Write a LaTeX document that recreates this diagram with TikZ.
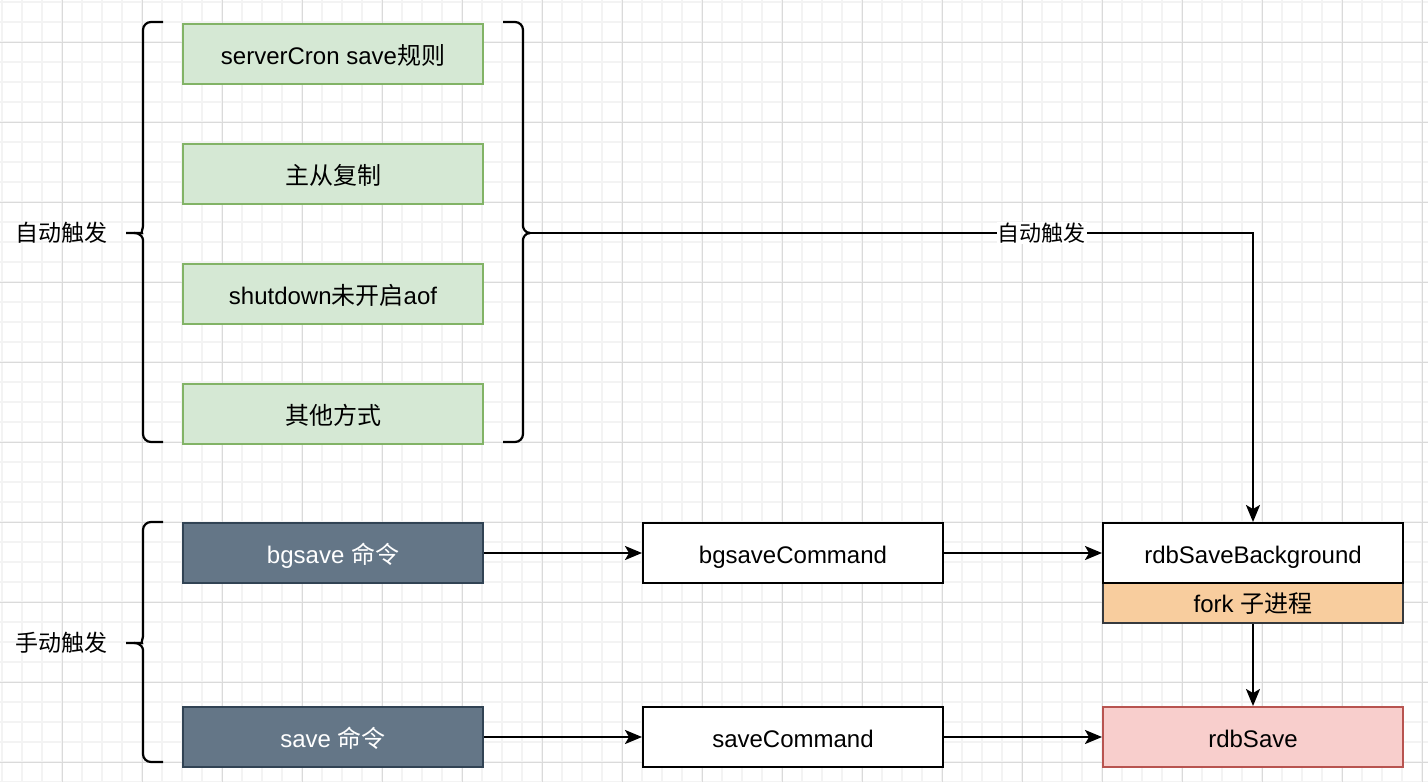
\documentclass[tikz,border=0pt]{standalone}
\usepackage{fontspec}
\setmainfont{Liberation Sans}
\newfontfamily\cjk{Noto Sans CJK SC}
\usetikzlibrary{arrows.meta}
\definecolor{gminor}{HTML}{F3F3F3}
\definecolor{gmajor}{HTML}{DADADA}
\definecolor{greenfill}{HTML}{D5E8D4}
\definecolor{greenline}{HTML}{82B366}
\definecolor{darkfill}{HTML}{647687}
\definecolor{darkline}{HTML}{314354}
\definecolor{orangefill}{HTML}{F8CD9E}
\definecolor{orangeline}{HTML}{36393D}
\definecolor{redfill}{HTML}{F8CECC}
\definecolor{redline}{HTML}{B85450}
\tikzset{
  box/.style={draw, line width=2pt, minimum width=300pt, minimum height=60pt, inner sep=0pt, anchor=north west, text height=20pt, text depth=0pt, font=\fontsize{24}{28}\selectfont},
  greenbox/.style={box, fill=greenfill, draw=greenline},
  darkbox/.style={box, fill=darkfill, draw=darkline, text=white},
  plainbox/.style={box, fill=white, draw=black},
  conn/.style={draw=black, line width=2.2pt, -{Stealth[length=17pt,width=14pt,inset=4pt]}},
  bracepath/.style={draw=black, line width=2.2pt, rounded corners=8pt},
  sidelabel/.style={font=\fontsize{23}{27}\selectfont\cjk, inner sep=0pt},
}
\begin{document}
\begin{tikzpicture}[x=1pt,y=-1pt]
\useasboundingbox (0,0) rectangle (1428,782);
\fill[white] (0,0) rectangle (1428,782);
% grid
\foreach \i in {2,22,...,1422} \draw[gminor, line width=1.3pt] (\i,0) -- (\i,782);
\foreach \j in {2,22,...,782} \draw[gminor, line width=1.3pt] (0,\j) -- (1428,\j);
\foreach \i in {62,142,...,1422} \draw[gmajor, line width=0.9pt] (\i,0) -- (\i,782);
\foreach \j in {42,122,...,782} \draw[gmajor, line width=0.9pt] (0,\j) -- (1428,\j);

% green boxes
\node[greenbox] (cron) at (182,23) {serverCron save{\cjk 规则}};
\node[greenbox] (repl) at (182,143) {\cjk 主从复制};
\node[greenbox] (shut) at (182,263) {shutdown{\cjk 未开启}aof};
\node[greenbox] (other) at (182,383) {\cjk 其他方式};

% manual boxes
\node[darkbox] (bgsave) at (182,522) {bgsave {\cjk 命令}};
\node[darkbox] (save) at (182,706) {save {\cjk 命令}};
\node[plainbox] (bgcmd) at (642,522) {bgsaveCommand};
\node[plainbox] (savecmd) at (642,706) {saveCommand};
\node[box, minimum height=40pt, text height=19pt, fill=orangefill, draw=orangeline] (fork) at (1102,582) {fork {\cjk 子进程}};
\node[plainbox] (rdbbg) at (1102,522) {rdbSaveBackground};
\node[box, fill=redfill, draw=redline] (rdb) at (1102,706) {rdbSave};

% side labels
\node[sidelabel] (autolbl) at (62,233) {自动触发};
\node[sidelabel] (manlbl) at (62,643) {手动触发};

% left brace (auto)
\draw[bracepath] (163,22) -- (143,22) -- (143,218)
  .. controls (143,228) and (141,233) .. (134,233) -- (127,233);
\draw[bracepath] (134,233) .. controls (141,233) and (143,238) .. (143,248)
  -- (143,442) -- (163,442);
% right brace
\draw[bracepath] (503,22) -- (523,22) -- (523,218)
  .. controls (523,228) and (525,233) .. (530,233);
\draw[bracepath] (530,233) .. controls (525,233) and (523,238) .. (523,248)
  -- (523,442) -- (503,442);
\coordinate (autotip) at (530,233);
% lower brace (manual)
\draw[bracepath] (163,522) -- (143,522) -- (143,628)
  .. controls (143,638) and (141,643) .. (134,643) -- (127,643);
\draw[bracepath] (134,643) .. controls (141,643) and (143,648) .. (143,658)
  -- (143,762) -- (163,762);

% connectors
\draw[conn] (autotip) -| node[pos=0.354, fill=white, inner sep=1pt, font=\fontsize{22}{26}\selectfont\cjk] {自动触发} (rdbbg.north);
\draw[conn] (bgsave.east) -- (bgcmd.west);
\draw[conn] (bgcmd.east) -- (rdbbg.west);
\draw[conn] (save.east) -- (savecmd.west);
\draw[conn] (savecmd.east) -- (rdb.west);
\draw[conn] (fork.south) -- (rdb.north);
\end{tikzpicture}
\end{document}
